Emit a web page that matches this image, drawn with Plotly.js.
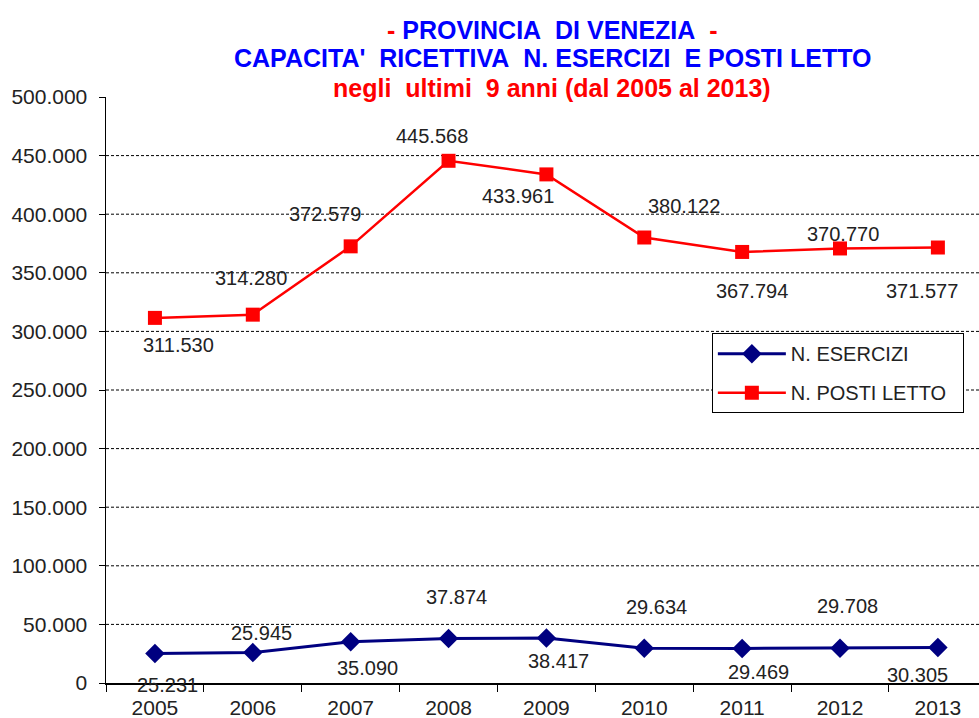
<!DOCTYPE html>
<html>
<head>
<meta charset="utf-8">
<script src="https://cdn.plot.ly/plotly-3.0.1.min.js"></script>
<style>
  body { margin: 0; background: #fff; }
  #grafico { width: 979px; height: 718px; }
</style>
</head>
<body>
<div id="grafico"></div>
<script>
const anni = ['2005', '2006', '2007', '2008', '2009', '2010', '2011', '2012', '2013'];
const esercizi = [25231, 25945, 35090, 37874, 38417, 29634, 29469, 29708, 30305];
const postiLetto = [311530, 314280, 372579, 445568, 433961, 380122, 367794, 370770, 371577];
const tickY = [0, 50000, 100000, 150000, 200000, 250000, 300000, 350000, 400000, 450000, 500000];

// spostamenti delle etichette (pixel), come nel grafico originale
const spostPosti = [[24, -27], [-2, 37], [-26, 32], [-17, 25], [-28, -22], [40, 32], [10, -39], [3, 14], [-16, -43]];
const spostEserc = [[13, -32], [9, 20], [17, -26], [8, 42], [12, -23], [12, 41], [16, -24], [7, 42], [-20, -28]];

const fontBase = 'Liberation Sans, Arial, sans-serif';
const fontTitolo = 'Liberation Sans Narrow, Arial Narrow, Liberation Sans, Arial, sans-serif';

function formatta(n) {
    return n.toString().replace(/\B(?=(\d{3})+(?!\d))/g, '.');
}

const traceEserc = {
    x: anni, y: esercizi,
    mode: 'lines+markers',
    name: 'N. ESERCIZI',
    legendgroup: 'a',
    line: { color: '#000080', width: 3 },
    marker: { symbol: 'diamond', size: 15, color: '#000080' }
};

const tracePosti = {
    x: anni, y: postiLetto,
    mode: 'lines+markers',
    name: 'N. POSTI LETTO\u00a0\u00a0',   // spazi per allargare il riquadro della legenda
    legendgroup: 'b',
    line: { color: '#ff0000', width: 2.5 },
    marker: { symbol: 'square', size: 14, color: '#ff0000' }
};

let etichette = [];
postiLetto.forEach((v, i) => {
    etichette.push({
        x: i, y: v, xref: 'x', yref: 'y', text: formatta(v), showarrow: false,
        xshift: spostPosti[i][0], yshift: spostPosti[i][1],
        font: { family: fontBase, size: 20, color: '#222' }
    });
});
esercizi.forEach((v, i) => {
    etichette.push({
        x: i, y: v, xref: 'x', yref: 'y', text: formatta(v), showarrow: false,
        xshift: spostEserc[i][0], yshift: spostEserc[i][1],
        font: { family: fontBase, size: 20, color: '#222' }
    });
});

// titolo su tre righe
const rosso = '#ff0000', blu = '#0000ff';
const righeTitolo = [
    [`<span style="color:${rosso}">-</span> PROVINCIA\u00a0\u00a0DI VENEZIA\u00a0\u00a0<span style="color:${rosso}">-</span>`, blu, 1.114],
    [`CAPACITA'\u00a0\u00a0RICETTIVA\u00a0\u00a0N. ESERCIZI\u00a0\u00a0E POSTI LETTO`, blu, 1.066],
    [`negli\u00a0\u00a0ultimi\u00a0\u00a09\u00a0anni (dal 2005 al 2013)`, rosso, 1.015]
];
righeTitolo.forEach(r => {
    etichette.push({
        xref: 'paper', yref: 'paper', x: 0.511, y: r[2],
        xanchor: 'center', yanchor: 'middle', showarrow: false,
        text: r[0],
        font: { family: fontTitolo, size: 25, color: r[1], weight: 'bold' }
    });
});

// griglia tratteggiata (senza la riga in cima)
let griglia = tickY.slice(1, -1).map(t => ({
    type: 'line', xref: 'paper', x0: 0, x1: 1, yref: 'y', y0: t, y1: t,
    line: { color: '#000', width: 1, dash: '3px,2px' }, layer: 'below'
}));

const layout = {
    width: 979, height: 718,
    paper_bgcolor: '#fff', plot_bgcolor: '#fff',
    margin: { l: 106, r: 0, t: 97, b: 35 },
    xaxis: {
        type: 'category',
        range: [-0.5, 8.42],
        showline: true, linecolor: '#000', linewidth: 1.5,
        ticks: 'outside', tickson: 'boundaries', ticklen: 7, tickcolor: '#000',
        ticklabelstandoff: 5,
        showgrid: false, zeroline: false,
        tickfont: { family: fontBase, size: 21, color: '#222' }
    },
    yaxis: {
        range: [0, 500000],
        tickvals: tickY,
        ticktext: tickY.map(formatta),
        showline: true, linecolor: '#000', linewidth: 1.5,
        ticks: 'outside', ticklen: 6, tickcolor: '#000',
        ticklabelstandoff: 7,
        showgrid: false, zeroline: false,
        tickfont: { family: fontBase, size: 21, color: '#222' }
    },
    shapes: griglia,
    annotations: etichette,
    showlegend: true,
    legend: {
        x: 0.694, y: 0.597, xanchor: 'left', yanchor: 'top',
        bgcolor: '#fff', bordercolor: '#000', borderwidth: 1,
        tracegroupgap: 10, itemwidth: 68,
        font: { family: fontBase, size: 20, color: '#222' }
    }
};

Plotly.newPlot('grafico', [traceEserc, tracePosti], layout, { displayModeBar: false, staticPlot: true });
</script>
</body>
</html>
